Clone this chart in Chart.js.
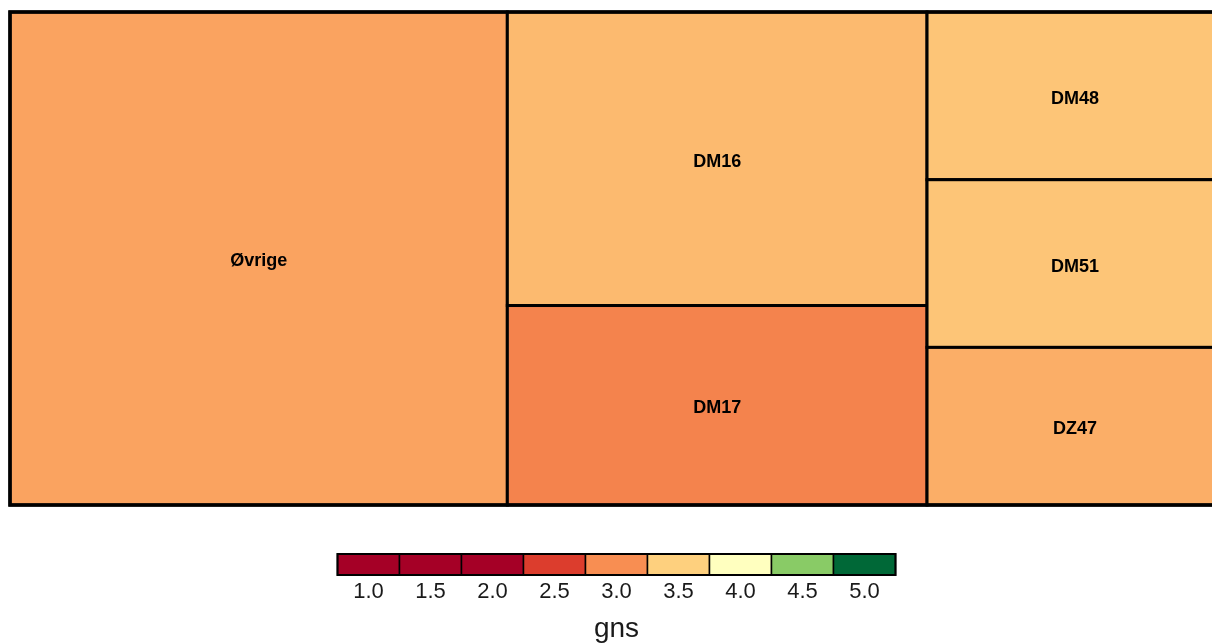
<!DOCTYPE html>
<html lang="da">
<head>
<meta charset="UTF-8">
<title>Treemap – gns</title>
<script src="https://cdn.jsdelivr.net/npm/chart.js@4.4.0"></script>
<style>
  *{margin:0;padding:0;box-sizing:border-box}
  html,body{width:1212px;height:643px;overflow:hidden;background:#fff}
  #wrap{width:1235px;height:643px}
</style>
</head>
<body>
<div id="wrap"><canvas id="tm" width="1235" height="643"></canvas></div>
<script>
/* cells: label, size (area), gns (colour value) */
const labels=['Øvrige','DM16','DM17','DM48','DM51','DZ47'];
const sizes=[410,206,140,83,83,78];
const gns=[3.16,3.33,2.93,3.42,3.42,3.24];

/* colour scale legend */
const scaleTicks=['1.0','1.5','2.0','2.5','3.0','3.5','4.0','4.5','5.0'];
const scaleColors=['#a50026','#a50026','#a50026','#dc3d2d','#f88e52','#fed07e','#ffffbf','#89cb66','#006837'];
const scaleTitle='gns';

function hex(c){return [1,3,5].map(i=>parseInt(c.substr(i,2),16));}
function colorFor(v){
  const p=Math.max(0,Math.min(scaleTicks.length-1,(v-1)/0.5));
  const i=Math.min(Math.floor(p),scaleTicks.length-2), t=p-i;
  const a=hex(scaleColors[i]), b=hex(scaleColors[i+1]);
  return 'rgb('+a.map((c,k)=>Math.round(c+(b[k]-c)*t)).join(',')+')';
}

/* pivot-by-size layout (items sorted large -> small) */
function pivot(items,x,y,w,h,out){
  if(!items.length) return;
  if(items.length===1){out.push({...items[0],x,y,w,h});return;}
  const col=w>=h, side=col?h:w;
  let best=Infinity,k=1,acc=0;
  for(let n=1;n<=items.length;n++){
    acc+=items[n-1].area;
    const th=acc/side, pl=items[0].area/th;
    const r=Math.max(th/pl,pl/th);
    if(r<best){best=r;k=n;}
  }
  const strip=items.slice(0,k), rest=items.slice(k);
  const th=strip.reduce((s,d)=>s+d.area,0)/side, pl=items[0].area/th;
  if(col){
    out.push({...items[0],x,y,w:th,h:pl});
    pivot(strip.slice(1),x,y+pl,th,h-pl,out);
    pivot(rest,x+th,y,w-th,h,out);
  }else{
    out.push({...items[0],x,y,w:pl,h:th});
    pivot(strip.slice(1),x+pl,y,w-pl,th,out);
    pivot(rest,x,y+th,w,h-th,out);
  }
}

const treemap={
  id:'treemap',
  afterDraw(chart){
    const ctx=chart.ctx, ca=chart.chartArea, xs=chart.scales.x, ys=chart.scales.y;
    const asp=ca.width/ca.height, total=sizes.reduce((a,b)=>a+b,0);
    const items=sizes.map((v,i)=>({i,area:v/total*asp}));
    const cells=[]; pivot(items,0,0,asp,1,cells);
    ctx.save();
    cells.forEach(c=>{
      const x0=xs.getPixelForValue(c.x/asp), x1=xs.getPixelForValue((c.x+c.w)/asp);
      const y0=ys.getPixelForValue(c.y), y1=ys.getPixelForValue(c.y+c.h);
      ctx.fillStyle=colorFor(gns[c.i]);
      ctx.fillRect(x0,y0,x1-x0,y1-y0);
      ctx.lineWidth=3; ctx.strokeStyle='#000';
      ctx.strokeRect(x0,y0,x1-x0,y1-y0);
      ctx.fillStyle='#000';
      ctx.font='bold 18px "Liberation Sans", Arial, sans-serif';
      ctx.textAlign='center'; ctx.textBaseline='middle';
      ctx.fillText(labels[c.i],(x0+x1)/2,(y0+y1)/2+3);
    });
    ctx.lineWidth=3.5; ctx.strokeStyle='#000';
    ctx.strokeRect(ca.left,ca.top,ca.width,ca.height);

    /* legend */
    const bw=62, bh=21, top=554, cx=(ca.left+ca.right)/2, left=cx-bw*scaleColors.length/2;
    scaleColors.forEach((col,i)=>{
      ctx.fillStyle=col; ctx.fillRect(left+i*bw,top,bw,bh);
      ctx.lineWidth=1.5; ctx.strokeStyle='#000'; ctx.strokeRect(left+i*bw,top,bw,bh);
    });
    ctx.lineWidth=2; ctx.strokeRect(left,top,bw*scaleColors.length,bh);
    ctx.fillStyle='#1a1a1a';
    ctx.font='22px "Liberation Sans", Arial, sans-serif';
    ctx.textAlign='center'; ctx.textBaseline='middle';
    scaleTicks.forEach((t,i)=>ctx.fillText(t,left+i*bw+bw/2,592));
    ctx.font='28px "Liberation Sans", Arial, sans-serif';
    ctx.fillText(scaleTitle,cx,629);
    ctx.restore();
  }
};

new Chart(document.getElementById('tm'),{
  type:'scatter',
  data:{datasets:[{data:[]}]},
  options:{
    responsive:false, animation:false, devicePixelRatio:1,
    layout:{padding:{left:10,right:12,top:12,bottom:138}},
    plugins:{legend:{display:false},tooltip:{enabled:false}},
    scales:{
      x:{type:'linear',min:0,max:1,display:false},
      y:{type:'linear',min:0,max:1,reverse:true,display:false}
    }
  },
  plugins:[treemap]
});
</script>
</body>
</html>
